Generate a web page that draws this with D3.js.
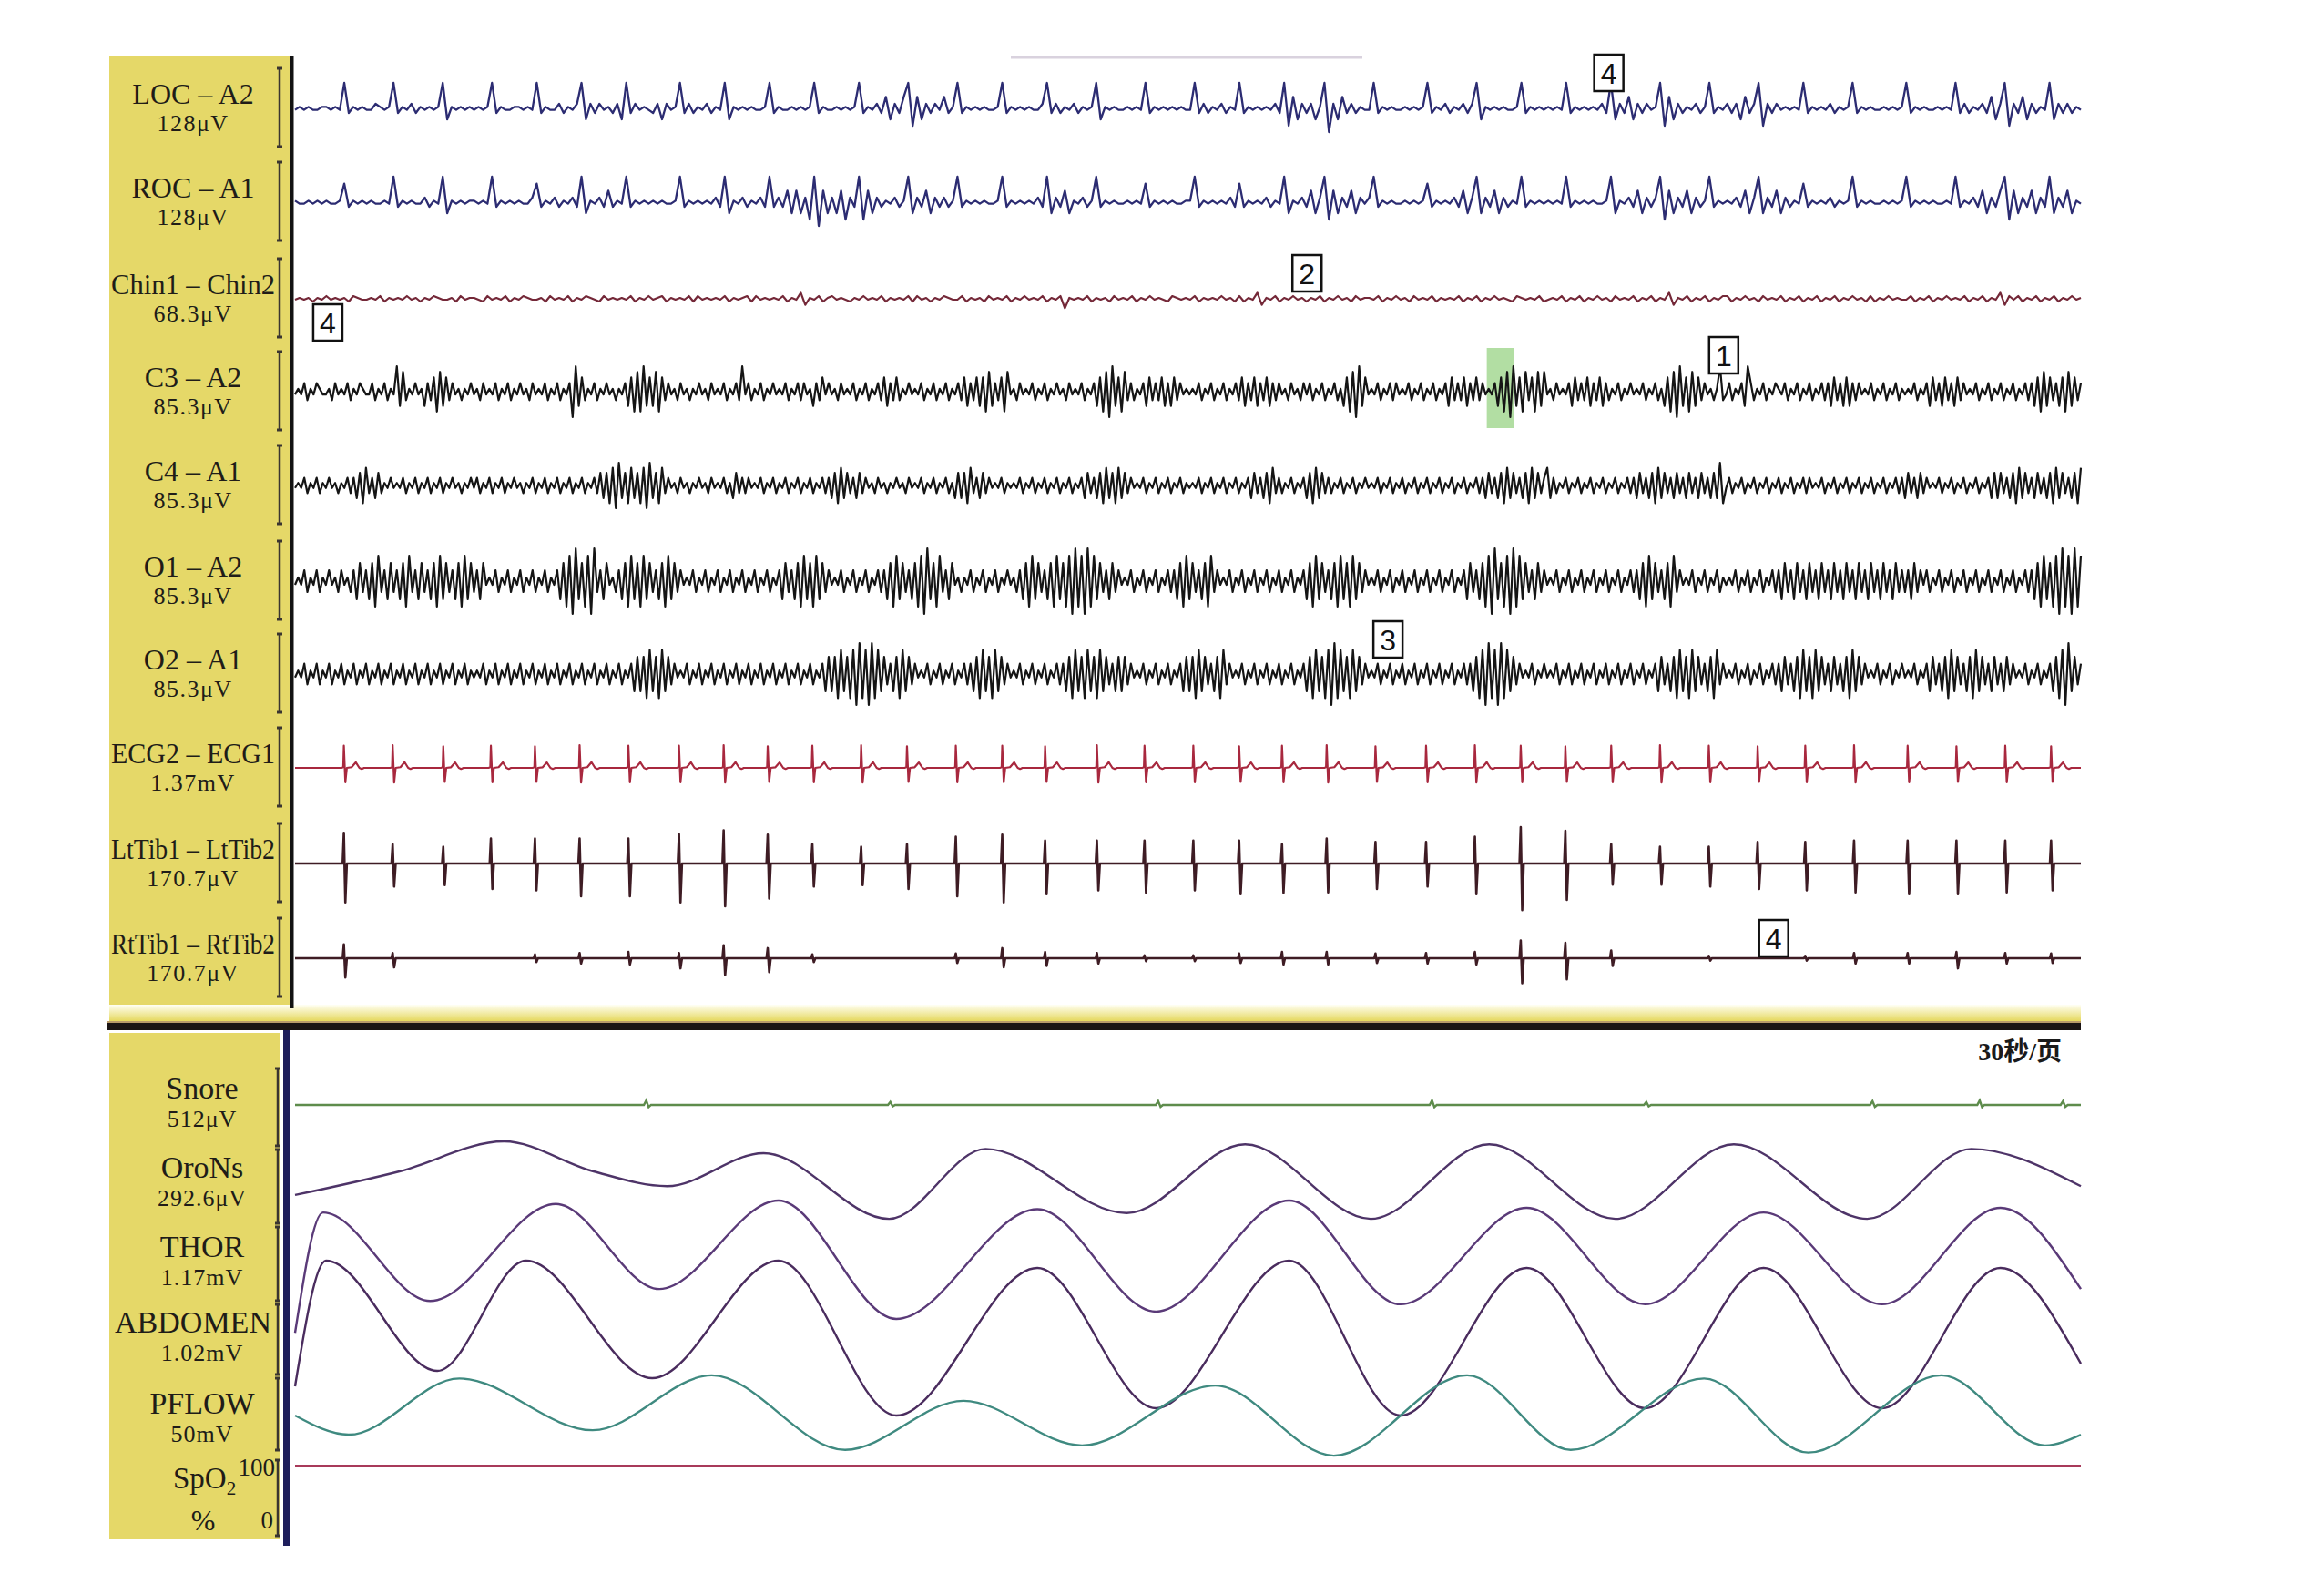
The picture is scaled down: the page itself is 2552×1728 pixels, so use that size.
<!DOCTYPE html>
<html><head><meta charset="utf-8">
<script src="https://cdn.jsdelivr.net/npm/d3@7/dist/d3.min.js"></script>
<style>html,body{margin:0;padding:0;background:#fff}svg{display:block}</style>
</head><body>
<svg id="c" width="2552" height="1728"></svg>
<script>
// ---------------- DATA ----------------
const topNames = ["LOC \u2013 A2","ROC \u2013 A1","Chin1 \u2013 Chin2","C3 \u2013 A2","C4 \u2013 A1","O1 \u2013 A2","O2 \u2013 A1","ECG2 \u2013 ECG1","LtTib1 \u2013 LtTib2","RtTib1 \u2013 RtTib2"];
const topGains = ["128\u03bcV","128\u03bcV","68.3\u03bcV","85.3\u03bcV","85.3\u03bcV","85.3\u03bcV","85.3\u03bcV","1.37mV","170.7\u03bcV","170.7\u03bcV"];
const bottomNames = ["Snore","OroNs","THOR","ABDOMEN","PFLOW"];
const bottomGains = ["512\u03bcV","292.6\u03bcV","1.17mV","1.02mV","50mV"];
const pageLabel = "30\u79d2/\u9875";

// EEG/EOG/EMG traces: one digit per sample (0 = lowest, 9 = highest), 30 s page
const locTrace = [
"4545445545493545446545935463545459254545","4545935445545493544635469263645362936454",
"3626459363546354925454544593544545459354","4545459354637263791726364735935454544593",
"5454544693635463545925454454549354545454","4936354635493545454639172636259062736354",
"4935454454545935463546369254545445935454","5454935454546392637263645917263546359354",
"6362736916364545493545463545935454454545","9354544545493635463726916372635492636354"].join("");
const rocTrace = [
"5445454544583545454454935454463549254545","5454935454544683546354639254637354935454",
"5454459354545463925463546393637272619072","6271639172635463592637263635935454544593",
"5454546392637254635935454454548354545445","5935454546383545463549254637269172637264",
"6935454454545835454637269263726354935454","5454935454544592546372636917263726359354",
"5463726926372635483545463545935454454545","9354545445493546372637917263726392637254"].join("");
const chinTrace = [
"4545354645453654454635454645354654453645","5436454635465445364546354654364545463546",
"4563545463645454635456364545463547254635","6454354645463545463645354654463545364546",
"3546454635461545463545364546354645436545","4635454645363547254635464535463546453645",
"5463546453645463545463546354645436545463","4546354635464536454635463547254635463546",
"6354645364546354635463546354645363546454","4635463546454635463547264635463546354645"].join("");
const c3Trace = [
"4546354654453645463546544635463549283546452637182736453546","4536454635463546453645463546354609273546354645354627181927",
"2817364536453546453645463546394635463546454635463645263746","4536454635463546372637354645463546354635463726372718263718",
"4536454635463546453645463546271809271836354627363726273645","4546354635463546372637263726364536453646354635463527180927",
"4546354636454635463546354627363726373645462718092718371828","4536454627363726372635463546454635463527180927182736453593",
"4635462963546354654635463546354636273627263645463546354635","4546354627362736273645463546354635463546362718273627182736"].join("");
const c4Trace = [
"4546354635464535463627183627354645463546354635463546453546","4635463546354645354635463546354635463546372718092718271809",
"2718364536453546453645463527363645463546354635463546354636","2718273627364536453546453645463546354635272718362736454635",
"4546354635463546354635462736271827182736454635463546354635","4546354635463546354627362718363546354627182736354635463546",
"4546354635463546354635463546354635463627362718273627182736","8263546354635463546354635463627362718273627362736273627291",
"4635463546354635463546354636454635463546354635463546354636","2736273645463546354635463546272736271827362736271827362718"].join("");
const o1Trace = [
"4546354635464536453627362718362736271836273627182736271827","3627454635463546354635463546271809271809362745362718271827",
"3627182736454635463546354635463546354635462736271827182736","4546354635463546362718273627180927183627453546354635463546",
"4536271827362718271809180918273627364546354635463546362718","2736271836454635463546354635463546354627182736271827182736",
"4546354635463546354635463546354627362718092718091827362736","4546354635463546354635463546362718273627183645463546354635",
"4546354635463546362736273627362736273627362736273627362736","3627364635463546354635463546354635463546362718271809180918"].join("");
const o2Trace = [
"4546354635463546354635463546354635463546354635463546354635","4546354635463546354635463546354635463546354635463546272718",
"2718273645463546354635463546354635463546354635463546354627","2718271809180918273627182736454635463546354636271827182736",
"4546354635463546362718271827182736272736454635463546354627","2718273627183645463546354635463546354627182718091827182736",
"4546354635463546354635463546354636271809180918273645463546","4546354635463546354635463546354635462736271827182736271836",
"4546354635463546362736271827182736273627182736454635463546","4546354627362718273627182736273627364546354635462718092736"].join("");

// heart beats (s) and R amplitude (mV)
const ecgBeats = [0.82,1.64,2.49,3.29,4.03,4.78,5.60,6.45,7.20,7.94,8.69,9.51,10.28,11.10,11.88,12.60,13.47,14.27,15.09,15.86,16.58,17.33,18.15,19.00,19.82,20.59,21.34,22.11,22.93,23.75,24.57,25.37,26.19,27.09,27.91,28.73,29.50];
const ecgR = [0.37,0.38,0.36,0.37,0.36,0.38,0.37,0.37,0.38,0.36,0.37,0.38,0.36,0.37,0.37,0.36,0.38,0.37,0.37,0.36,0.37,0.38,0.36,0.37,0.38,0.37,0.36,0.37,0.38,0.37,0.36,0.37,0.38,0.37,0.36,0.37,0.36];
const ecgWaveDt = [-0.04,-0.01,0.0,0.025,0.05,0.13,0.2,0.26,0.3,0.34];
const ecgWaveRel = [0,0.03,1,-0.65,0,0.03,0.25,0.0,-0.05,0];
// leg EMG spikes per beat (µV up / down)
const ltTibUp   = [64,40,35,52,52,52,52,61,69,60,40,35,40,56,60,48,48,48,48,48,40,52,45,45,56,76,68,40,35,35,45,45,48,48,48,48,48];
const ltTibDown = [81,48,45,53,56,68,68,81,89,73,48,45,53,68,81,64,56,61,56,64,61,60,53,48,64,97,76,44,44,48,53,56,60,64,64,60,56];
const rtTibUp   = [29,11,0,0,8,11,13,11,27,21,8,0,0,10,21,13,11,6,6,10,13,13,10,11,13,37,32,16,0,5,0,5,11,11,13,11,10];
const rtTibDown = [40,19,0,0,8,11,13,21,35,29,8,0,0,10,19,16,11,6,6,10,13,13,10,11,13,52,44,16,0,5,0,5,11,11,21,11,10];
// snore blips: time (s), µV
const snoreT = [5.9,10.0,14.5,19.1,22.7,26.5,28.3,29.7];
const snoreA = [30,20,25,30,20,25,30,25];
// respiratory channels: [time s, relative amplitude -1..1]
const oronsPts = [[0,-0.39],[1.77,0.18],[3.51,0.89],[5.0,0.18],[6.25,-0.18],[7.87,0.61],[9.98,-0.96],[11.6,0.71],[13.97,-0.82],[15.96,0.82],[18.07,-0.96],[20.06,0.82],[22.18,-0.96],[24.17,0.82],[26.41,-0.96],[28.16,0.71],[30,-0.18]];
const thorPts = [[0,-1.1],[0.47,0.71],[2.27,-0.62],[4.38,0.84],[6.12,-0.44],[8.12,0.89],[10.1,-0.89],[12.47,0.76],[14.46,-0.78],[16.7,0.89],[18.57,-0.67],[20.69,0.78],[22.68,-0.67],[24.67,0.71],[26.66,-0.67],[28.65,0.78],[30,-0.44]];
const abdPts = [[0,-0.55],[0.52,1.0],[2.39,-0.36],[3.88,1.0],[6.0,-0.45],[8.12,1.0],[10.1,-0.91],[12.47,0.91],[14.46,-0.82],[16.7,1.0],[18.57,-0.91],[20.69,0.91],[22.68,-0.82],[24.67,0.91],[26.66,-0.82],[28.65,0.91],[30,-0.27]];
const pflowPts = [[0,0],[0.9,-0.43],[2.76,0.83],[5.0,-0.33],[7.0,0.9],[9.24,-0.77],[11.23,0.33],[13.22,-0.67],[15.46,0.67],[17.45,-0.9],[19.69,0.9],[21.43,-0.77],[23.67,0.83],[25.42,-0.83],[27.66,0.9],[29.4,-0.67],[30,-0.43]];
const spo2Pts = [[0,96],[30,96]];
// numbered event markers: label, time (s), channel index
const markLabels = ["4","4","2","1","3","4"];
const markTimes  = [22.07,0.55,17.0,24.0,18.36,24.84];
const markChan   = [0,2,2,3,6,9];
const markShift  = [-39,26,-28,-40,-38,-22];
const highlightT = [20.02,20.47];

// ---------------- LAYOUT ----------------
const X0 = 324, X1 = 2285;
const x = d3.scaleLinear().domain([0,30]).range([X0,X1]);
const svg = d3.select("#c");
const serif = "'Liberation Serif','Times New Roman',serif";
const ink = "#201c18";
const topC = [119,222,328,430,533,638,740,843,948,1052];

const defs = svg.append("defs");
const grad = defs.append("linearGradient").attr("id","sep").attr("x1",0).attr("y1",0).attr("x2",0).attr("y2",1);
grad.append("stop").attr("offset","0%").attr("stop-color","#fffff4");
grad.append("stop").attr("offset","100%").attr("stop-color","#e4d655");

// panels
svg.append("rect").attr("x",120).attr("y",62).attr("width",199).attr("height",1045).attr("fill","#e5d868");
svg.append("rect").attr("x",120).attr("y",1134).attr("width",187).attr("height",556).attr("fill","#e5d868");
svg.append("rect").attr("x",120).attr("y",1103).attr("width",X1-120).attr("height",19).attr("fill","url(#sep)");
svg.append("rect").attr("x",117).attr("y",1121).attr("width",X1-117).attr("height",2).attr("fill","#b89a6a");
svg.append("rect").attr("x",117).attr("y",1123).attr("width",X1-117).attr("height",8).attr("fill","#1a1414");
svg.append("rect").attr("x",319).attr("y",62).attr("width",3.5).attr("height",1045).attr("fill","#121212");
svg.append("rect").attr("x",311).attr("y",1131).attr("width",7).attr("height",566).attr("fill","#1e1e5c");
svg.append("line").attr("x1",1110).attr("x2",1496).attr("y1",63).attr("y2",63).attr("stroke","#d9d2de").attr("stroke-width",3);

// calibration bars
function calBar(xp, y0, y1){
  svg.append("line").attr("x1",xp).attr("x2",xp).attr("y1",y0).attr("y2",y1).attr("stroke","#3a3530").attr("stroke-width",2.5);
  [y0,y1].forEach(yy=>svg.append("line").attr("x1",xp-3).attr("x2",xp+3).attr("y1",yy).attr("y2",yy).attr("stroke","#3a3530").attr("stroke-width",3));
}
topC.forEach(c=>calBar(307,c-44,c+42));
[[1173,1258],[1262,1343],[1347,1428],[1432,1509],[1513,1592],[1603,1686]].forEach(b=>calBar(305,b[0],b[1]));

function fitText(sel, maxW){
  const w = sel.node().getComputedTextLength();
  if (w > maxW) sel.attr("textLength", maxW).attr("lengthAdjust","spacingAndGlyphs");
}
// labels
topNames.forEach((n,i)=>{
  const t = svg.append("text").attr("x",212).attr("y",topC[i]-5).attr("text-anchor","middle")
    .attr("font-family",serif).attr("font-size",32).attr("fill",ink).text(n);
  fitText(t, 180);
  svg.append("text").attr("x",212).attr("y",topC[i]+25).attr("text-anchor","middle")
    .attr("font-family",serif).attr("font-size",26).attr("letter-spacing",1.5).attr("fill",ink).text(topGains[i]);
});
const botNameY = [1206,1293,1380,1463,1552];
const botX = [222,222,222,212,222];
bottomNames.forEach((n,i)=>{
  const t = svg.append("text").attr("x",botX[i]).attr("y",botNameY[i]).attr("text-anchor","middle")
    .attr("font-family",serif).attr("font-size",34).attr("fill",ink).text(n);
  fitText(t, 176);
  svg.append("text").attr("x",222).attr("y",botNameY[i]+31).attr("text-anchor","middle")
    .attr("font-family",serif).attr("font-size",26).attr("letter-spacing",1).attr("fill",ink).text(bottomGains[i]);
});
const sp = svg.append("text").attr("x",190).attr("y",1634).attr("font-family",serif).attr("font-size",33).attr("fill",ink);
sp.append("tspan").text("SpO");
sp.append("tspan").attr("font-size",21).attr("dy",7).text("2");
svg.append("text").attr("x",302).attr("y",1620).attr("text-anchor","end").attr("font-family",serif).attr("font-size",27).attr("fill",ink).text("100");
svg.append("text").attr("x",223).attr("y",1680).attr("text-anchor","middle").attr("font-family",serif).attr("font-size",32).attr("fill",ink).text("%");
svg.append("text").attr("x",300).attr("y",1678).attr("text-anchor","end").attr("font-family",serif).attr("font-size",27).attr("fill",ink).text("0");
svg.append("text").attr("x",2264).attr("y",1164).attr("text-anchor","end").attr("font-family",serif+",'Noto Sans CJK SC'")
  .attr("font-size",28).attr("font-weight","bold").attr("fill","#1a1a1a").text(pageLabel);

// green highlight
svg.append("rect").attr("x",x(highlightT[0])).attr("width",x(highlightT[1])-x(highlightT[0]))
  .attr("y",topC[3]-48).attr("height",88).attr("fill","#9fd68c").attr("opacity",0.8);

// digit traces; polylinear scale allows a compressed baseline
function drawCode(str, center, dom, offs, color, w){
  const codes = str.split("").map(Number);
  const n = codes.length;
  const y = d3.scaleLinear().domain(dom).range(offs.map(o=>center+o));
  const line = d3.line().x((d,i)=>x(i*30/(n-1))).y(d=>y(d));
  svg.append("path").attr("d",line(codes)).attr("fill","none").attr("stroke",color)
    .attr("stroke-width",w).attr("stroke-linejoin","round");
}
drawCode(locTrace, topC[0], [0,3,6,9], [26,5,-5,-28], "#2c2c72", 2.3);
drawCode(rocTrace, topC[1], [0,3,6,9], [26,5,-5,-28], "#2c2c72", 2.3);
drawCode(chinTrace, topC[2], [0,3,6,9], [14,3,-3,-14], "#742838", 2.2);
drawCode(c3Trace, topC[3], [0,9], [28,-28], "#151515", 2.2);
drawCode(c4Trace, topC[4], [0,9], [25,-25], "#151515", 2.2);
drawCode(o1Trace, topC[5], [0,9], [36,-36], "#151515", 2.2);
drawCode(o2Trace, topC[6], [0,9], [34,-34], "#151515", 2.2);

// ECG
{
  const y = d3.scaleLinear().domain([-0.685,0.685]).range([topC[7]+45, topC[7]-45]);
  const pts = [[0,0]];
  ecgBeats.forEach((t,i)=>ecgWaveDt.forEach((dt,k)=>{const tt=t+dt; if(tt>0&&tt<30) pts.push([tt, ecgR[i]*ecgWaveRel[k]]);}));
  pts.push([30,0]);
  svg.append("path").attr("d",d3.line().x(d=>x(d[0])).y(d=>y(d[1]))(pts)).attr("fill","none")
    .attr("stroke","#a8283e").attr("stroke-width",2.2).attr("stroke-linejoin","round");
}
// Tib
function drawTib(up, down, center, color){
  const y = d3.scaleLinear().domain([-85.35,85.35]).range([center+45, center-45]);
  const pts = [[0,0]];
  ecgBeats.forEach((t,i)=>{
    if(up[i]===0 && down[i]===0) return;
    pts.push([t-0.02,0],[t,up[i]],[t+0.025,-down[i]],[t+0.05,0]);
  });
  pts.push([30,0]);
  svg.append("path").attr("d",d3.line().x(d=>x(d[0])).y(d=>y(d[1]))(pts)).attr("fill","none")
    .attr("stroke",color).attr("stroke-width",2.6).attr("stroke-linejoin","round");
}
drawTib(ltTibUp, ltTibDown, topC[8], "#3e1c24");
drawTib(rtTibUp, rtTibDown, topC[9], "#3e1c24");

// Snore
{
  const y = d3.scaleLinear().domain([-256,256]).range([1213+42, 1213-42]);
  const pts=[[0,0]];
  snoreT.forEach((t,i)=>pts.push([t-0.04,0],[t,snoreA[i]],[t+0.04,-snoreA[i]*0.5],[t+0.08,0]));
  pts.push([30,0]);
  svg.append("path").attr("d",d3.line().x(d=>x(d[0])).y(d=>y(d[1]))(pts)).attr("fill","none")
    .attr("stroke","#5e8c4c").attr("stroke-width",2.4);
}
// respiratory
function drawResp(pts, center, half, color){
  const y = d3.scaleLinear().domain([-1,1]).range([center+half, center-half]);
  svg.append("path").attr("d",d3.line().curve(d3.curveMonotoneX).x(d=>x(d[0])).y(d=>y(d[1]))(pts))
    .attr("fill","none").attr("stroke",color).attr("stroke-width",2.4);
}
drawResp(oronsPts, 1294, 46, "#4e3468");
drawResp(thorPts, 1383, 73, "#5a3a78");
drawResp(abdPts, 1473, 89, "#4a2c5e");
drawResp(pflowPts, 1554, 49, "#3f8a80");
{
  const y = d3.scaleLinear().domain([0,100]).range([1684,1606]);
  svg.append("path").attr("d",d3.line().x(d=>x(d[0])).y(d=>y(d[1]))(spo2Pts)).attr("fill","none")
    .attr("stroke","#a83a5a").attr("stroke-width",2.4);
}
// markers
markLabels.forEach((l,i)=>{
  const cx = x(markTimes[i]), cy = topC[markChan[i]] + markShift[i];
  svg.append("rect").attr("x",cx-16).attr("y",cy-20).attr("width",32).attr("height",40)
    .attr("fill","#fff").attr("stroke","#111").attr("stroke-width",2.5);
  svg.append("text").attr("x",cx).attr("y",cy+12).attr("text-anchor","middle")
    .attr("font-family","'Liberation Sans',Arial,sans-serif").attr("font-size",32).attr("fill","#111").text(l);
});
</script>
</body></html>
